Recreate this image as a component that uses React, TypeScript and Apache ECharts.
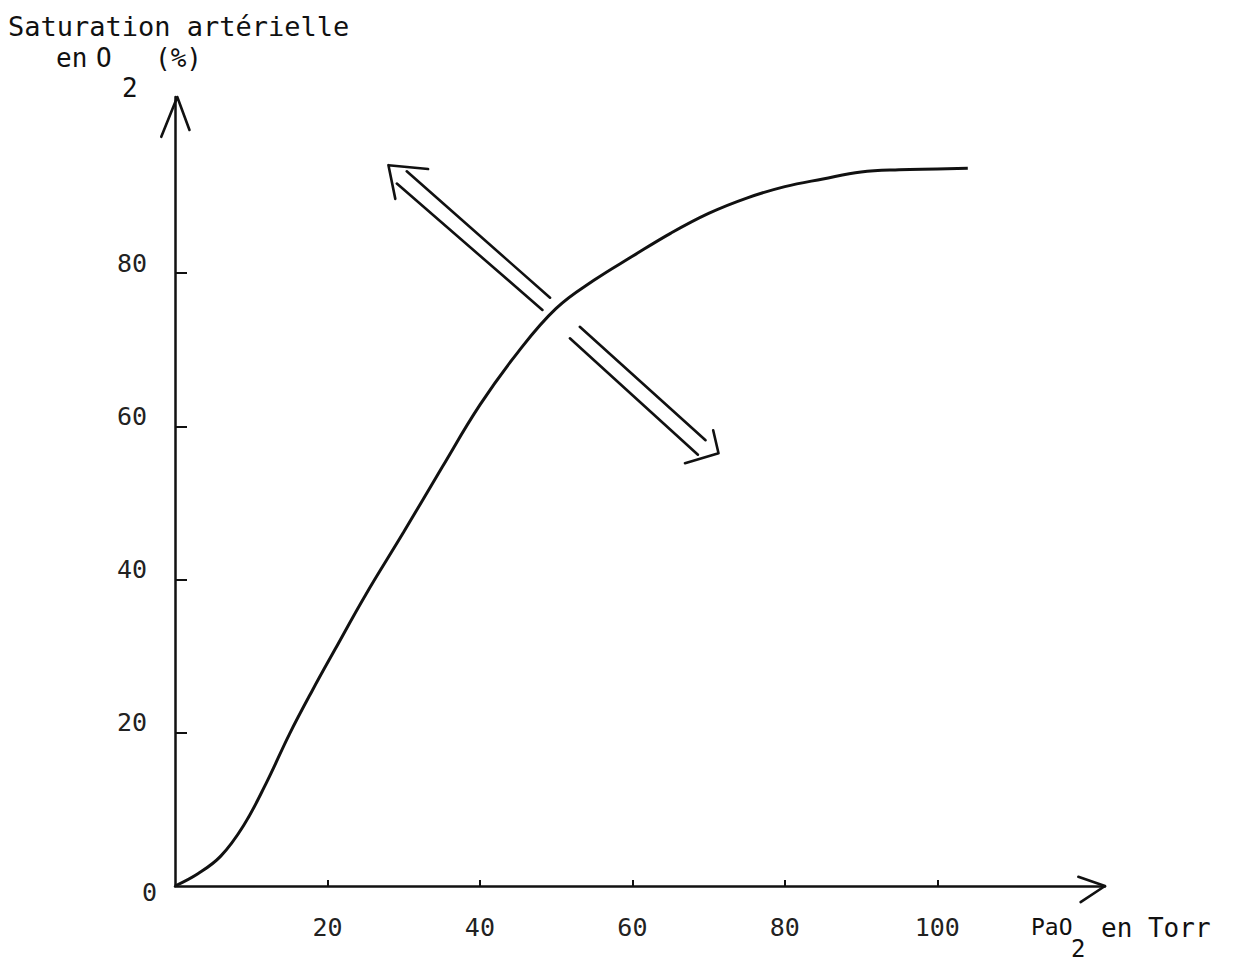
import React, { useEffect, useRef } from "react";
import * as echarts from "echarts";

// Oxygen saturation curve (PaO2 in Torr -> SaO2 in %)
const pao2 = [0, 3, 6, 9, 12, 15, 18, 21, 25, 30, 35, 40, 45, 50, 55, 60, 65, 70, 75, 80, 85, 90, 95, 100, 104];
const sao2 = [0, 1.6, 3.9, 7.9, 13.5, 19.8, 25.5, 30.9, 38.0, 46.2, 54.6, 62.8, 69.7, 75.4, 79.1, 82.2, 85.2, 87.8, 89.8, 91.3, 92.3, 93.2, 93.5, 93.6, 93.7];

// Axis ticks / labels
const xTicks = [20, 40, 60, 80, 100];
const yTicks = [20, 40, 60, 80];
const yZeroLabel = [0];

// Annotation: hollow double-headed arrow (in data units)
const arrowShafts = [
  [[30.4, 93.3], [49.2, 76.8]],
  [[29.1, 91.7], [48.2, 75.2]],
  [[53.1, 73.0], [69.6, 58.2]],
  [[51.8, 71.5], [68.6, 56.3]],
];
const arrowHeads = [
  [[33.2, 93.6], [28.0, 94.1], [28.9, 89.7]],
  [[70.6, 59.5], [71.3, 56.5], [66.9, 55.2]],
];
// Open chevrons at the ends of the axes
const axisHeads = [
  [[-1.8, 97.8], [0.3, 103], [1.9, 98.7]],
  [[118.5, 1.2], [122, 0], [118.8, -2.1]],
];

const FONT = '"DejaVu Sans Mono", "Liberation Mono", monospace';
const INK = "#111";

export default function App() {
  const ref = useRef<HTMLDivElement>(null);
  useEffect(() => {
    document.body.style.margin = "0";
    const chart = echarts.init(ref.current!, null, { renderer: "svg" });
    const polylines = [...arrowShafts, ...arrowHeads, ...axisHeads];
    chart.setOption({
      animation: false,
      backgroundColor: "#fff",
      grid: { left: 175, right: 130, top: 97, bottom: 76, containLabel: false },
      xAxis: {
        type: "value",
        min: 0,
        max: 122,
        interval: 20,
        splitLine: { show: false },
        axisLine: { lineStyle: { color: INK, width: 2.5 } },
        axisTick: { customValues: xTicks, inside: true, length: 6, lineStyle: { color: INK, width: 2 } },
        axisLabel: { customValues: xTicks, fontFamily: FONT, fontSize: 25, color: "#222", margin: 29 },
      },
      yAxis: [
        {
          type: "value",
          position: "left",
          min: 0,
          max: 103,
          interval: 20,
          splitLine: { show: false },
          axisLine: { lineStyle: { color: INK, width: 2.5 } },
          axisTick: { customValues: yTicks, inside: true, length: 12, lineStyle: { color: INK, width: 2 } },
          axisLabel: {
            customValues: yTicks,
            fontFamily: FONT,
            fontSize: 25,
            color: "#222",
            margin: 28,
            verticalAlign: "bottom",
            lineHeight: 20,
          },
        },
        {
          type: "value",
          position: "left",
          offset: 0,
          min: 0,
          max: 103,
          interval: 20,
          splitLine: { show: false },
          axisLine: { show: false },
          axisTick: { show: false },
          axisLabel: {
            customValues: yZeroLabel,
            fontFamily: FONT,
            fontSize: 25,
            color: "#222",
            margin: 18,
            verticalAlign: "top",
            lineHeight: 12,
          },
        },
      ],
      series: [
        {
          type: "line",
          data: pao2.map((x, i) => [x, sao2[i]]),
          smooth: 0.4,
          showSymbol: false,
          lineStyle: { color: INK, width: 3 },
          z: 3,
        },
        {
          type: "custom",
          clip: false,
          data: polylines.map((pl) => pl[1]),
          renderItem: (params: any, api: any) => {
            const pl = polylines[params.dataIndex];
            return {
              type: "polyline",
              shape: { points: pl.map((p) => api.coord(p)) },
              style: { stroke: INK, lineWidth: 2.6, fill: null, lineJoin: "round", lineCap: "round" },
            };
          },
          z: 4,
        },
      ],
      graphic: [
        { type: "text", left: 8, top: 13, style: { text: "Saturation artérielle", font: `27px ${FONT}`, fill: INK } },
        { type: "text", left: 56, top: 45, style: { text: "en", font: `26px ${FONT}`, fill: INK } },
        { type: "text", left: 96, top: 45, style: { text: "O", font: `26px ${FONT}`, fill: INK } },
        { type: "text", left: 122, top: 75, style: { text: "2", font: `26px ${FONT}`, fill: INK } },
        { type: "text", left: 155, top: 45, style: { text: "(%)", font: `26px ${FONT}`, fill: INK } },
        { type: "text", left: 1031, top: 915, style: { text: "PaO", font: `23px ${FONT}`, fill: INK } },
        { type: "text", left: 1071, top: 937, style: { text: "2", font: `24px ${FONT}`, fill: INK } },
        { type: "text", left: 1101, top: 915, style: { text: "en Torr", font: `26px ${FONT}`, fill: INK } },
      ],
    });
    return () => chart.dispose();
  }, []);
  return <div ref={ref} style={{ width: 1235, height: 962 }} />;
}
